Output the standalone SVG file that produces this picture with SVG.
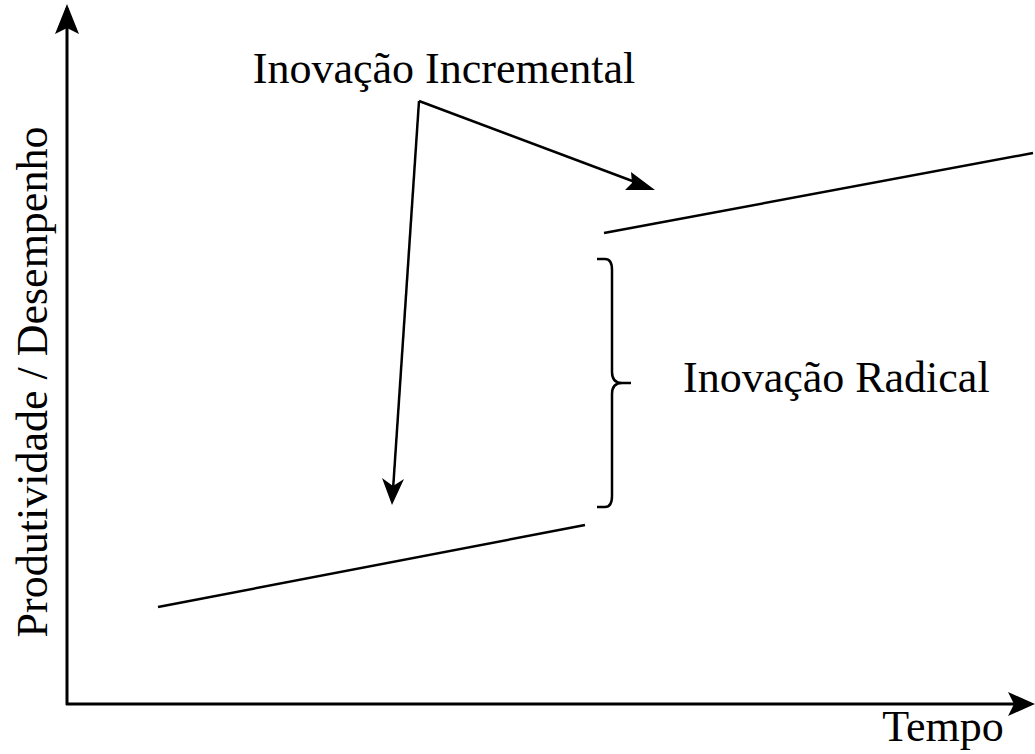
<svg xmlns="http://www.w3.org/2000/svg" width="1035" height="754" viewBox="0 0 1035 754">
<style>
.t{font-family:"Liberation Serif","Times New Roman",serif;font-size:44px;fill:#000}
.l{stroke:#000;stroke-width:2.5;fill:none}
</style>
<rect width="1035" height="754" fill="#fff"/>
<g id="axes">
<path d="M67,705 V8" stroke="#000" stroke-width="3"/>
<path d="M55,34 L67,4 L79,34 L67,28 Z" fill="#000"/>
<path d="M66,704 H1030" stroke="#000" stroke-width="3"/>
<path d="M1008,692 L1035,704 L1008,716 L1014,704 Z" fill="#000"/>
</g>
<g id="connectors">
<path class="l" d="M419,101 L643,185"/>
<path d="M631,172 L655,190 L625,190 L632,183 Z" fill="#000"/>
<path class="l" d="M419,101 L393,490"/>
<path d="M382,478 L392,505 L404,479 L393,486 Z" fill="#000"/>
</g>
<g id="lines">
<path class="l" d="M158,607 L585,525"/>
<path class="l" d="M604,233 L1033,153"/>
</g>
<g id="brace">
<path class="l" d="M597,259 H605 Q612,259 612,270 V372 Q612,383 622,383 H631 M622,383 Q612,383 612,394 V496 Q612,507 605,507 H597"/>
</g>
<g id="labels">
<text class="t" x="444" y="83" text-anchor="middle">Inovação Incremental</text>
<text class="t" x="683" y="392">Inovação Radical</text>
<text class="t" x="943" y="741" text-anchor="middle">Tempo</text>
<text class="t" transform="translate(47,382) rotate(-90)" text-anchor="middle">Produtividade / Desempenho</text>
</g>
</svg>
